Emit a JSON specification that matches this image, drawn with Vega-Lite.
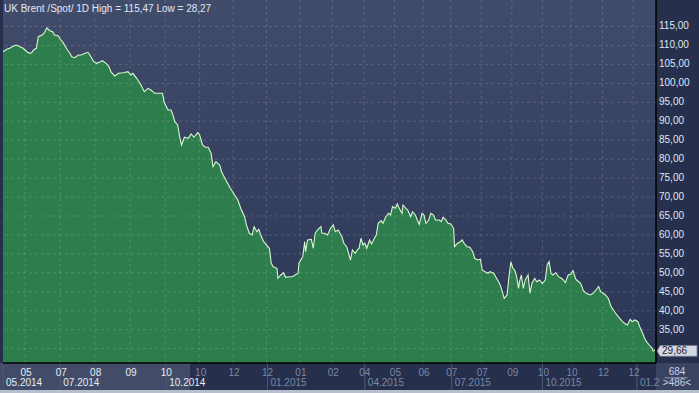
{
  "$schema": "https://vega.github.io/schema/vega-lite/v6.json",
  "width": 653,
  "height": 363,
  "autosize": {"type": "none"},
  "padding": {"left": 3, "top": 0, "right": 43, "bottom": 30},
  "background": "#262f4b",
  "config": {
    "view": {"stroke": null, "fill": {"gradient": "linear", "x1": 0, "y1": 0, "x2": 0, "y2": 1, "stops": [{"offset": 0, "color": "#414c6b"}, {"offset": 1, "color": "#2b3656"}]}},
    "font": "Liberation Sans"
  },
  "datasets": {
    "brent": [
      {"bar":0,"v":108.35},{"bar":4,"v":108.98},{"bar":7,"v":109.25},{"bar":11,"v":109.85},{"bar":14,"v":110.12},{"bar":18,"v":109.67},{"bar":21,"v":109.25},{"bar":25,"v":108.35},{"bar":28,"v":107.93},{"bar":30,"v":108.09},{"bar":32,"v":108.8},{"bar":35,"v":109.25},{"bar":37,"v":112.31},{"bar":41,"v":112.76},{"bar":43,"v":113.21},{"bar":46,"v":114.6},{"bar":49,"v":113.89},{"bar":52,"v":113.63},{"bar":54,"v":112.76},{"bar":58,"v":112.49},{"bar":60,"v":111.62},{"bar":63,"v":110.73},{"bar":67,"v":108.98},{"bar":70,"v":107.93},{"bar":72,"v":107.03},{"bar":75,"v":106.77},{"bar":79,"v":107.48},{"bar":82,"v":107.48},{"bar":86,"v":107.93},{"bar":89,"v":108.19},{"bar":91,"v":107.48},{"bar":95,"v":105.71},{"bar":98,"v":105.29},{"bar":102,"v":105.71},{"bar":104,"v":105.98},{"bar":108,"v":105.29},{"bar":111,"v":104.39},{"bar":113,"v":103.07},{"bar":117,"v":101.94},{"bar":121,"v":102.65},{"bar":126,"v":102.81},{"bar":131,"v":103.07},{"bar":134,"v":102.2},{"bar":136,"v":102.65},{"bar":140,"v":101.33},{"bar":144,"v":99.83},{"bar":148,"v":97.8},{"bar":152,"v":98.69},{"bar":155,"v":98.25},{"bar":159,"v":97.37},{"bar":163,"v":97.37},{"bar":167,"v":97.37},{"bar":169,"v":94.89},{"bar":173,"v":92.97},{"bar":176,"v":92.97},{"bar":178,"v":91.65},{"bar":180,"v":89.88},{"bar":183,"v":89.01},{"bar":185,"v":85.92},{"bar":187,"v":83.73},{"bar":190,"v":85.77},{"bar":194,"v":85.5},{"bar":197,"v":86.64},{"bar":200,"v":85.77},{"bar":204,"v":86.98},{"bar":206,"v":86.37},{"bar":209,"v":83.73},{"bar":212,"v":83.13},{"bar":215,"v":83.13},{"bar":218,"v":81.54},{"bar":220,"v":78.01},{"bar":223,"v":79.33},{"bar":227,"v":78.46},{"bar":229,"v":76.61},{"bar":234,"v":74.23},{"bar":238,"v":72.39},{"bar":242,"v":70.8},{"bar":246,"v":69.22},{"bar":249,"v":67.03},{"bar":253,"v":64.82},{"bar":255,"v":62.63},{"bar":258,"v":60.44},{"bar":261,"v":59.99},{"bar":263,"v":62.18},{"bar":266,"v":60.86},{"bar":268,"v":61.49},{"bar":270,"v":59.99},{"bar":273,"v":58.22},{"bar":276,"v":57.35},{"bar":279,"v":56.48},{"bar":281,"v":52.52},{"bar":283,"v":51.62},{"bar":287,"v":51.2},{"bar":288,"v":48.56},{"bar":291,"v":49.43},{"bar":294,"v":50.04},{"bar":296,"v":48.83},{"bar":300,"v":48.98},{"bar":303,"v":48.98},{"bar":306,"v":49.43},{"bar":309,"v":49.88},{"bar":310,"v":52.52},{"bar":314,"v":54.26},{"bar":316,"v":58.22},{"bar":317,"v":55.58},{"bar":319,"v":58.67},{"bar":323,"v":58.85},{"bar":325,"v":56.48},{"bar":327,"v":60.44},{"bar":330,"v":61.49},{"bar":333,"v":62.18},{"bar":334,"v":60.44},{"bar":337,"v":60.44},{"bar":340,"v":59.99},{"bar":343,"v":61.75},{"bar":346,"v":62.63},{"bar":348,"v":60.86},{"bar":351,"v":61.31},{"bar":355,"v":59.54},{"bar":357,"v":57.8},{"bar":360,"v":56.9},{"bar":362,"v":55.16},{"bar":364,"v":53.39},{"bar":366,"v":56.03},{"bar":369,"v":55.16},{"bar":371,"v":56.03},{"bar":373,"v":56.48},{"bar":375,"v":59.12},{"bar":377,"v":57.35},{"bar":379,"v":57.8},{"bar":381,"v":56.48},{"bar":384,"v":58.67},{"bar":386,"v":57.61},{"bar":389,"v":59.12},{"bar":391,"v":59.99},{"bar":393,"v":63.07},{"bar":396,"v":63.76},{"bar":398,"v":63.07},{"bar":401,"v":64.82},{"bar":404,"v":65.71},{"bar":406,"v":65.26},{"bar":408,"v":67.45},{"bar":411,"v":67.03},{"bar":413,"v":68.17},{"bar":415,"v":67.03},{"bar":418,"v":65.71},{"bar":419,"v":67.9},{"bar":422,"v":67.03},{"bar":424,"v":66.58},{"bar":427,"v":64.82},{"bar":429,"v":66.13},{"bar":432,"v":65.26},{"bar":434,"v":63.94},{"bar":436,"v":62.81},{"bar":439,"v":65.71},{"bar":441,"v":65.26},{"bar":443,"v":63.07},{"bar":446,"v":63.94},{"bar":448,"v":65.71},{"bar":451,"v":65.26},{"bar":453,"v":63.94},{"bar":457,"v":63.94},{"bar":459,"v":63.5},{"bar":461,"v":64.66},{"bar":464,"v":63.94},{"bar":466,"v":63.07},{"bar":469,"v":62.89},{"bar":472,"v":61.75},{"bar":473,"v":56.9},{"bar":476,"v":57.8},{"bar":479,"v":58.22},{"bar":481,"v":58.67},{"bar":483,"v":57.8},{"bar":486,"v":56.9},{"bar":489,"v":56.74},{"bar":492,"v":55.58},{"bar":494,"v":53.84},{"bar":497,"v":53.39},{"bar":500,"v":53.58},{"bar":502,"v":50.75},{"bar":505,"v":50.3},{"bar":508,"v":49.88},{"bar":510,"v":50.3},{"bar":514,"v":49.88},{"bar":517,"v":48.56},{"bar":520,"v":47.24},{"bar":522,"v":45.92},{"bar":525,"v":43.28},{"bar":528,"v":44.16},{"bar":530,"v":48.98},{"bar":532,"v":52.94},{"bar":534,"v":51.2},{"bar":536,"v":50.75},{"bar":538,"v":48.98},{"bar":540,"v":45.92},{"bar":541,"v":47.66},{"bar":543,"v":49.43},{"bar":545,"v":45.92},{"bar":547,"v":48.11},{"bar":550,"v":49.43},{"bar":552,"v":44.6},{"bar":554,"v":47.24},{"bar":557,"v":48.56},{"bar":559,"v":47.66},{"bar":562,"v":48.11},{"bar":565,"v":47.24},{"bar":568,"v":48.11},{"bar":570,"v":52.07},{"bar":572,"v":52.94},{"bar":574,"v":49.88},{"bar":576,"v":49.43},{"bar":579,"v":50.04},{"bar":582,"v":48.98},{"bar":585,"v":48.56},{"bar":587,"v":48.11},{"bar":589,"v":47.4},{"bar":592,"v":49.43},{"bar":595,"v":49.7},{"bar":597,"v":50.57},{"bar":600,"v":48.3},{"bar":603,"v":47.66},{"bar":605,"v":47.24},{"bar":608,"v":45.29},{"bar":611,"v":44.6},{"bar":615,"v":44.16},{"bar":618,"v":44.6},{"bar":621,"v":45.47},{"bar":624,"v":46.35},{"bar":626,"v":45.03},{"bar":629,"v":44.6},{"bar":631,"v":44.16},{"bar":634,"v":43.28},{"bar":637,"v":41.07},{"bar":640,"v":40.01},{"bar":643,"v":38.88},{"bar":646,"v":38.01},{"bar":649,"v":37.11},{"bar":652,"v":36.5},{"bar":654,"v":36.24},{"bar":657,"v":37.74},{"bar":659,"v":37.11},{"bar":662,"v":37.56},{"bar":665,"v":37.11},{"bar":667,"v":35.79},{"bar":670,"v":34.05},{"bar":672,"v":32.73},{"bar":674,"v":31.83},{"bar":677,"v":30.96},{"bar":680,"v":30.09},{"bar":681,"v":29.4},{"bar":683,"v":29.66}
    ],
    "periods": [
      {"bar":0,"lab":"05.2014"},{"bar":60,"lab":"07.2014"},{"bar":171,"lab":"10.2014"},{"bar":277,"lab":"01.2015"},{"bar":379,"lab":"04.2015"},{"bar":470,"lab":"07.2015"},{"bar":565,"lab":"10.2015"},{"bar":664,"lab":"01.2"}
    ],
    "months": [
      {"bar":23,"lab":"05"},{"bar":60,"lab":"07"},{"bar":96,"lab":"08"},{"bar":133,"lab":"09"},{"bar":170,"lab":"10"},{"bar":206,"lab":"10"},{"bar":241,"lab":"12"},{"bar":276,"lab":"12"},{"bar":311,"lab":"01"},{"bar":345,"lab":"02"},{"bar":378,"lab":"04"},{"bar":410,"lab":"05"},{"bar":440,"lab":"06"},{"bar":469,"lab":"07"},{"bar":501,"lab":"07"},{"bar":533,"lab":"09"},{"bar":565,"lab":"10"},{"bar":595,"lab":"10"},{"bar":628,"lab":"12"},{"bar":660,"lab":"12"}
    ],
    "levels": [
      {"v":30,"lab":""},{"v":35,"lab":"35,00"},{"v":40,"lab":"40,00"},{"v":45,"lab":"45,00"},{"v":50,"lab":"50,00"},{"v":55,"lab":"55,00"},{"v":60,"lab":"60,00"},{"v":65,"lab":"65,00"},{"v":70,"lab":"70,00"},{"v":75,"lab":"75,00"},{"v":80,"lab":"80,00"},{"v":85,"lab":"85,00"},{"v":90,"lab":"90,00"},{"v":95,"lab":"95,00"},{"v":100,"lab":"100,00"},{"v":105,"lab":"105,00"},{"v":110,"lab":"110,00"},{"v":115,"lab":"115,00"}
    ],
    "one": [{}]
  },
  "layer": [
    {
      "data": {"name": "one"},
      "mark": {"type": "rect", "fill": "#424c68"},
      "encoding": {
        "x": {"datum": -10, "type": "quantitative", "scale": {"domain": [0, 684], "nice": false, "zero": false}, "axis": null},
        "x2": {"datum": 196},
        "y": {"datum": 26.21, "type": "quantitative", "scale": {"domain": [26.21, 121.99], "nice": false, "zero": false}, "axis": null},
        "y2": {"datum": 19.1}
      }
    },
    {
      "data": {"name": "one"},
      "mark": {"type": "rect", "fill": "#3a4461"},
      "encoding": {
        "x": {"datum": 684, "type": "quantitative", "scale": {"domain": [0, 684], "nice": false, "zero": false}, "axis": null},
        "x2": {"datum": 740},
        "y": {"datum": 26.21, "type": "quantitative", "scale": {"domain": [26.21, 121.99], "nice": false, "zero": false}, "axis": null},
        "y2": {"datum": 19.1}
      }
    },
    {
      "data": {"name": "one"},
      "mark": {"type": "rect", "fill": "#b7bfcc"},
      "encoding": {
        "x": {"datum": -10, "type": "quantitative", "scale": {"domain": [0, 684], "nice": false, "zero": false}, "axis": null},
        "x2": {"datum": 740},
        "y": {"datum": 19.1, "type": "quantitative", "scale": {"domain": [26.21, 121.99], "nice": false, "zero": false}, "axis": null},
        "y2": {"datum": 15}
      }
    },
    {
      "data": {"name": "brent"},
      "mark": {"type": "area", "fill": "#2e7d4c", "opacity": 1},
      "encoding": {
        "x": {"field": "bar", "type": "quantitative", "scale": {"domain": [0, 684], "nice": false, "zero": false}, "axis": null},
        "y": {"field": "v", "type": "quantitative", "scale": {"domain": [26.21, 121.99], "nice": false, "zero": false}, "axis": null},
        "y2": {"datum": 26.21}
      }
    },
    {
      "data": {"name": "levels"},
      "mark": {"type": "rule", "stroke": "#ffffff", "strokeOpacity": 0.15, "strokeDash": [3, 3], "strokeWidth": 1},
      "encoding": {
        "y": {"field": "v", "type": "quantitative", "scale": {"domain": [26.21, 121.99], "nice": false, "zero": false}, "axis": null}
      }
    },
    {
      "data": {"name": "months"},
      "mark": {"type": "rule", "stroke": "#ffffff", "strokeOpacity": 0.15, "strokeDash": [3, 3], "strokeWidth": 1},
      "encoding": {
        "x": {"field": "bar", "type": "quantitative", "scale": {"domain": [0, 684], "nice": false, "zero": false}, "axis": null}
      }
    },
    {
      "data": {"name": "brent"},
      "mark": {"type": "line", "stroke": "#d8f7d0", "strokeWidth": 1.1},
      "encoding": {
        "x": {"field": "bar", "type": "quantitative", "scale": {"domain": [0, 684], "nice": false, "zero": false}, "axis": null},
        "y": {"field": "v", "type": "quantitative", "scale": {"domain": [26.21, 121.99], "nice": false, "zero": false}, "axis": null}
      }
    },
    {
      "data": {"name": "one"},
      "mark": {"type": "rule", "stroke": "#000000", "strokeWidth": 1.5},
      "encoding": {
        "x": {"datum": 0, "type": "quantitative", "scale": {"domain": [0, 684], "nice": false, "zero": false}, "axis": null},
        "x2": {"datum": 684},
        "y": {"datum": 26.21, "type": "quantitative", "scale": {"domain": [26.21, 121.99], "nice": false, "zero": false}, "axis": null}
      }
    },
    {
      "data": {"name": "one"},
      "mark": {"type": "rule", "stroke": "#000000", "strokeWidth": 1.5},
      "encoding": {
        "x": {"datum": 684, "type": "quantitative", "scale": {"domain": [0, 684], "nice": false, "zero": false}, "axis": null},
        "y": {"datum": 121.99, "type": "quantitative", "scale": {"domain": [26.21, 121.99], "nice": false, "zero": false}, "axis": null},
        "y2": {"datum": 26.21}
      }
    },
    {
      "data": {"name": "levels"},
      "mark": {"type": "text", "align": "left", "baseline": "middle", "dx": 3, "fontSize": 10, "font": "Liberation Sans", "color": "#dfe7f5"},
      "encoding": {
        "x": {"datum": 684, "type": "quantitative", "scale": {"domain": [0, 684], "nice": false, "zero": false}, "axis": null},
        "y": {"field": "v", "type": "quantitative", "scale": {"domain": [26.21, 121.99], "nice": false, "zero": false}, "axis": null},
        "text": {"field": "lab"}
      }
    },
    {
      "data": {"name": "periods"},
      "mark": {"type": "rule", "stroke": "#4f5a78", "strokeWidth": 1},
      "encoding": {
        "x": {"field": "bar", "type": "quantitative", "scale": {"domain": [0, 684], "nice": false, "zero": false}, "axis": null},
        "y": {"datum": 26.0, "type": "quantitative", "scale": {"domain": [26.21, 121.99], "nice": false, "zero": false}, "axis": null},
        "y2": {"datum": 19.2}
      }
    },
    {
      "data": {"name": "months"},
      "mark": {"type": "text", "align": "center", "baseline": "middle", "dx": 1, "fontSize": 10, "font": "Liberation Sans"},
      "encoding": {
        "x": {"field": "bar", "type": "quantitative", "scale": {"domain": [0, 684], "nice": false, "zero": false}, "axis": null},
        "y": {"datum": 23.65, "type": "quantitative", "scale": {"domain": [26.21, 121.99], "nice": false, "zero": false}, "axis": null},
        "text": {"field": "lab"},
        "color": {"condition": {"test": "datum.bar < 196", "value": "#e6ecf7"}, "value": "#7b88a4"}
      }
    },
    {
      "data": {"name": "periods"},
      "mark": {"type": "text", "align": "left", "baseline": "middle", "dx": 3, "fontSize": 10, "font": "Liberation Sans"},
      "encoding": {
        "x": {"field": "bar", "type": "quantitative", "scale": {"domain": [0, 684], "nice": false, "zero": false}, "axis": null},
        "y": {"datum": 20.9, "type": "quantitative", "scale": {"domain": [26.21, 121.99], "nice": false, "zero": false}, "axis": null},
        "text": {"field": "lab"},
        "color": {"condition": {"test": "datum.bar < 196", "value": "#e6ecf7"}, "value": "#7b88a4"}
      }
    },
    {
      "data": {"name": "one"},
      "mark": {"type": "point", "shape": "M-1,0L-0.85,-0.27H1V0.27H-0.85Z", "size": 1600, "filled": true, "fill": "#d3d7df", "stroke": "#6e7890", "strokeWidth": 0.8, "opacity": 1, "xOffset": 22, "yOffset": 1},
      "encoding": {
        "x": {"datum": 683, "type": "quantitative", "scale": {"domain": [0, 684], "nice": false, "zero": false}, "axis": null},
        "y": {"datum": 29.66, "type": "quantitative", "scale": {"domain": [26.21, 121.99], "nice": false, "zero": false}, "axis": null}
      }
    },
    {
      "data": {"name": "one"},
      "mark": {"type": "text", "align": "left", "baseline": "middle", "dx": 7, "dy": 1, "fontSize": 10, "font": "Liberation Sans", "color": "#1b2540"},
      "encoding": {
        "x": {"datum": 683, "type": "quantitative", "scale": {"domain": [0, 684], "nice": false, "zero": false}, "axis": null},
        "y": {"datum": 29.66, "type": "quantitative", "scale": {"domain": [26.21, 121.99], "nice": false, "zero": false}, "axis": null},
        "text": {"value": "29,66"}
      }
    },
    {
      "data": {"name": "one"},
      "mark": {"type": "text", "align": "left", "baseline": "middle", "dx": 1, "fontSize": 10, "font": "Liberation Sans", "color": "#e0e7f4"},
      "encoding": {
        "x": {"datum": 0, "type": "quantitative", "scale": {"domain": [0, 684], "nice": false, "zero": false}, "axis": null},
        "y": {"datum": 119.7, "type": "quantitative", "scale": {"domain": [26.21, 121.99], "nice": false, "zero": false}, "axis": null},
        "text": {"value": "UK Brent /Spot/ 1D High = 115,47 Low = 28,27"}
      }
    },
    {
      "data": {"name": "one"},
      "mark": {"type": "text", "align": "center", "baseline": "middle", "fontSize": 10, "font": "Liberation Sans", "color": "#c9d3e8"},
      "encoding": {
        "x": {"datum": 706, "type": "quantitative", "scale": {"domain": [0, 684], "nice": false, "zero": false}, "axis": null},
        "y": {"datum": 23.8, "type": "quantitative", "scale": {"domain": [26.21, 121.99], "nice": false, "zero": false}, "axis": null},
        "text": {"value": "684"}
      }
    },
    {
      "data": {"name": "one"},
      "mark": {"type": "text", "align": "center", "baseline": "middle", "fontSize": 10, "font": "Liberation Sans", "color": "#c9d3e8"},
      "encoding": {
        "x": {"datum": 706, "type": "quantitative", "scale": {"domain": [0, 684], "nice": false, "zero": false}, "axis": null},
        "y": {"datum": 20.9, "type": "quantitative", "scale": {"domain": [26.21, 121.99], "nice": false, "zero": false}, "axis": null},
        "text": {"value": ">486<"}
      }
    },
    {
      "data": {"name": "one"},
      "mark": {"type": "rule", "stroke": "#8f9bb5", "strokeWidth": 1},
      "encoding": {
        "x": {"datum": 693, "type": "quantitative", "scale": {"domain": [0, 684], "nice": false, "zero": false}, "axis": null},
        "x2": {"datum": 717},
        "y": {"datum": 22.3, "type": "quantitative", "scale": {"domain": [26.21, 121.99], "nice": false, "zero": false}, "axis": null}
      }
    }
  ]
}
